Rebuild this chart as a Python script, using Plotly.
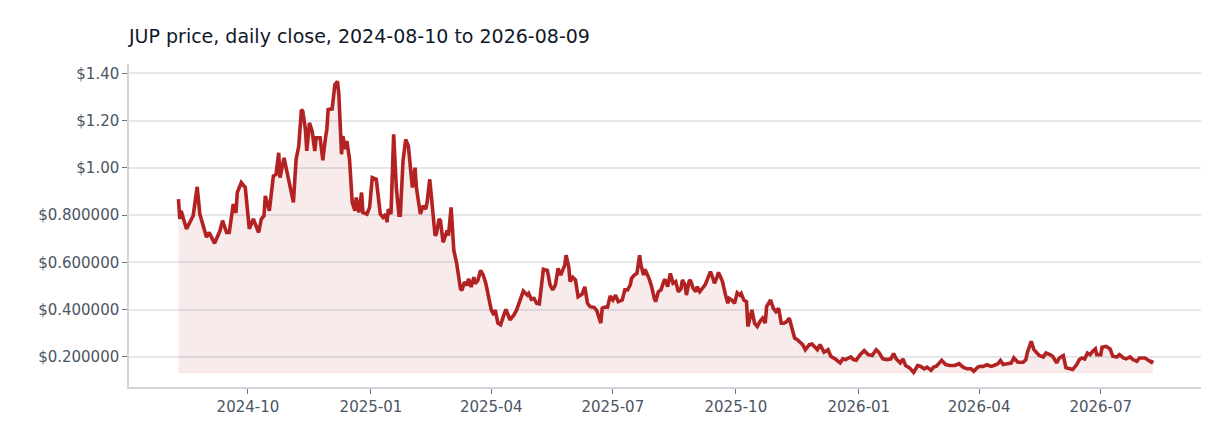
#Makes a html page with the JUP daily close price chart
import pandas as pd
import plotly.graph_objects as go

# Start of the series, every point below is days after this date
start_date = "2024-08-10"

# Day offsets from start_date
days = [
    0, 1, 2, 6, 11, 14, 16, 21, 23, 27, 31, 33, 36, 38, 41, 43, 44, 47, 50, 53,
    56, 60, 62, 64, 65, 68, 71, 73, 75, 76, 79, 82, 86, 88, 90, 92, 93, 95, 96, 98,
    100, 102, 103, 106, 108, 110, 111, 112, 115, 117, 119, 120, 122, 123, 125, 126, 128, 130, 132, 133,
    135, 137, 138, 141, 143, 145, 148, 151, 153, 155, 156, 157, 159, 161, 163, 165, 166, 168, 170, 172,
    175, 177, 178, 181, 183, 185, 186, 188, 190, 192, 193, 195, 196, 198, 201, 202, 204, 206, 208, 211,
    212, 214, 216, 217, 219, 221, 222, 224, 226, 228, 230, 231, 234, 236, 237, 239, 241, 243, 245, 248,
    251, 253, 256, 258, 261, 262, 264, 266, 268, 270, 273, 276, 278, 280, 282, 284, 286, 289, 290, 292,
    293, 295, 297, 299, 302, 304, 306, 308, 311, 313, 314, 316, 317, 319, 321, 323, 325, 327, 329, 332,
    334, 336, 338, 339, 341, 343, 345, 346, 348, 349, 352, 354, 356, 357, 359, 361, 363, 364, 366, 367,
    368, 370, 372, 374, 376, 377, 379, 380, 382, 383, 385, 387, 388, 390, 392, 394, 396, 398, 399, 401,
    403, 404, 406, 407, 409, 411, 412, 414, 416, 418, 420, 421, 423, 425, 426, 428, 429, 431, 433, 435,
    437, 439, 440, 443, 445, 447, 449, 451, 453, 455, 457, 459, 461, 463, 465, 467, 469, 472, 474, 476,
    478, 480, 483, 486, 488, 492, 495, 497, 499, 503, 505, 507, 510, 513, 516, 519, 522, 524, 527, 530,
    533, 535, 537, 540, 542, 544, 547, 550, 553, 555, 558, 560, 563, 565, 567, 571, 574, 577, 581, 584,
    587, 590, 593, 595, 598, 600, 602, 605, 608, 610, 613, 615, 617, 620, 623, 625, 628, 632, 634, 635,
    637, 638, 640, 644, 647, 649, 652, 654, 657, 659, 662, 664, 667, 669, 672, 674, 676, 678, 680, 682,
    684, 686, 687, 690, 691, 694, 697, 699, 702, 704, 707, 709, 712, 714, 717, 719, 723, 725, 728, 729,
]

# Close price in USD for each day offset
close_usd = [
    0.868, 0.784, 0.819, 0.742, 0.798, 0.920, 0.805, 0.707, 0.727, 0.681, 0.733, 0.777, 0.727, 0.727, 0.847, 0.810, 0.896, 0.938, 0.917, 0.742,
    0.784, 0.727, 0.784, 0.798, 0.882, 0.819, 0.966, 0.973, 1.064, 0.959, 1.043, 0.959, 0.854, 1.036, 1.093, 1.247, 1.240, 1.163, 1.072, 1.191,
    1.156, 1.072, 1.128, 1.128, 1.032, 1.128, 1.163, 1.247, 1.250, 1.352, 1.366, 1.310, 1.058, 1.135, 1.080, 1.114, 1.036, 0.854, 0.819, 0.875,
    0.812, 0.896, 0.812, 0.805, 0.833, 0.959, 0.952, 0.805, 0.791, 0.805, 0.770, 0.826, 0.805, 1.142, 0.917, 0.800, 0.800, 1.029, 1.121, 1.093,
    0.917, 1.001, 0.917, 0.805, 0.840, 0.826, 0.854, 0.952, 0.847, 0.714, 0.721, 0.784, 0.777, 0.685, 0.735, 0.714, 0.833, 0.651, 0.601, 0.489,
    0.482, 0.517, 0.503, 0.531, 0.496, 0.538, 0.510, 0.524, 0.566, 0.547, 0.510, 0.484, 0.399, 0.378, 0.399, 0.343, 0.336, 0.371, 0.402, 0.357,
    0.378, 0.399, 0.448, 0.479, 0.462, 0.469, 0.444, 0.448, 0.427, 0.425, 0.571, 0.566, 0.505, 0.484, 0.505, 0.575, 0.547, 0.589, 0.631, 0.582,
    0.519, 0.537, 0.526, 0.455, 0.466, 0.497, 0.427, 0.413, 0.410, 0.396, 0.378, 0.343, 0.406, 0.411, 0.411, 0.458, 0.441, 0.462, 0.434, 0.441,
    0.484, 0.484, 0.505, 0.533, 0.547, 0.554, 0.631, 0.589, 0.547, 0.571, 0.533, 0.498, 0.448, 0.434, 0.476, 0.484, 0.519, 0.529, 0.498, 0.540,
    0.554, 0.512, 0.519, 0.476, 0.490, 0.526, 0.505, 0.462, 0.519, 0.526, 0.491, 0.476, 0.498, 0.476, 0.491, 0.505, 0.533, 0.561, 0.547, 0.512,
    0.540, 0.558, 0.533, 0.519, 0.469, 0.427, 0.448, 0.441, 0.427, 0.472, 0.462, 0.469, 0.441, 0.434, 0.329, 0.378, 0.399, 0.343, 0.329, 0.350,
    0.364, 0.343, 0.413, 0.441, 0.406, 0.392, 0.406, 0.343, 0.343, 0.350, 0.364, 0.322, 0.280, 0.273, 0.262, 0.252, 0.231, 0.252, 0.255, 0.240,
    0.231, 0.252, 0.220, 0.231, 0.203, 0.189, 0.175, 0.192, 0.189, 0.200, 0.189, 0.186, 0.210, 0.227, 0.210, 0.206, 0.231, 0.220, 0.192, 0.189,
    0.192, 0.214, 0.192, 0.175, 0.192, 0.164, 0.154, 0.135, 0.164, 0.161, 0.150, 0.157, 0.144, 0.157, 0.161, 0.186, 0.168, 0.164, 0.164, 0.172,
    0.157, 0.150, 0.150, 0.140, 0.157, 0.161, 0.160, 0.167, 0.160, 0.164, 0.171, 0.185, 0.168, 0.171, 0.174, 0.196, 0.178, 0.178, 0.189, 0.217,
    0.252, 0.266, 0.231, 0.206, 0.200, 0.217, 0.210, 0.203, 0.175, 0.196, 0.206, 0.154, 0.150, 0.147, 0.168, 0.189, 0.196, 0.192, 0.217, 0.210,
    0.224, 0.234, 0.210, 0.210, 0.241, 0.245, 0.234, 0.203, 0.200, 0.210, 0.196, 0.192, 0.200, 0.189, 0.182, 0.196, 0.196, 0.189, 0.178, 0.186,
]

# Y axis tick values and their labels as shown on the chart
y_tick_values = [0.2, 0.4, 0.6, 0.8, 1.0, 1.2, 1.4]
y_tick_labels = ["$0.200000", "$0.400000", "$0.600000", "$0.800000", "$1.00", "$1.20", "$1.40"]

dates = pd.Timestamp(start_date) + pd.to_timedelta(days, unit="D")
floor_value = min(close_usd)  # shaded area goes down to the lowest close

fig = go.Figure()

# faint baseline so the shading stops at the lowest close
fig.add_trace(go.Scatter(
    x=dates, y=[floor_value] * len(dates),
    mode="lines", line=dict(width=1, color="rgba(178,34,34,0.12)"),
    hoverinfo="skip", showlegend=False,
))

fig.add_trace(go.Scatter(
    x=dates, y=close_usd,
    mode="lines", name="JUP",
    line=dict(color="#b22222", width=3.6),
    fill="tonexty", fillcolor="rgba(178,34,34,0.09)",
    showlegend=False,
))

# the page body adds 8px round the figure, so the figure is 16px smaller
fig.update_layout(
    width=1224, height=440,
    margin=dict(l=121, r=31, t=56, b=61),
    paper_bgcolor="white", plot_bgcolor="white",
    font=dict(family="DejaVu Sans", size=15, color="#4b5563"),
    title=dict(
        text="JUP price, daily close, 2024-08-10 to 2026-08-09",
        x=0, xref="paper", xanchor="left",
        y=0.95, yref="container", yanchor="top",
        font=dict(size=19, color="#111827"),
    ),
)

fig.update_xaxes(
    range=["2024-07-04", "2026-09-14"],
    dtick="M3", tick0="2024-10-01", tickformat="%Y-%m",
    showgrid=False, showline=True, linecolor="#d1d5db", linewidth=1.5,
    ticks="outside", ticklen=5, tickcolor="#6b7280",
    zeroline=False,
)

fig.update_yaxes(
    range=[0.073, 1.44],
    tickvals=y_tick_values, ticktext=y_tick_labels,
    showgrid=True, gridcolor="#e5e7eb", gridwidth=1.5,
    showline=True, linecolor="#d1d5db", linewidth=1.5,
    ticks="outside", ticklen=5, tickcolor="#6b7280",
    zeroline=False,
)

fig.write_html("out.html")
